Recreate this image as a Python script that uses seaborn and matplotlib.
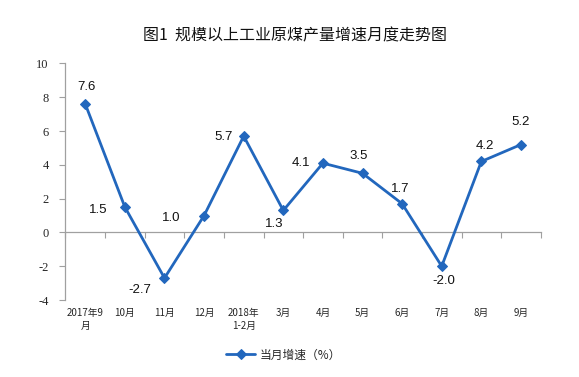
import matplotlib
matplotlib.use("Agg")
import matplotlib.pyplot as plt
import pandas as pd
import seaborn as sns

# data
months = ["2017年9\n月", "10月", "11月", "12月", "2018年\n1-2月", "3月",
          "4月", "5月", "6月", "7月", "8月", "9月"]
growth = [7.6, 1.5, -2.7, 1.0, 5.7, 1.3, 4.1, 3.5, 1.7, -2.0, 4.2, 5.2]
yticks = [-4, -2, 0, 2, 4, 6, 8, 10]

# label offsets (pixels) relative to each point
label_dx = [1, -27, -25, -33, -20, -9, -22, -4, -2, 2, 4, 0]
label_dy = [17, -3, -12, -2, -1, -14, 0, 17, 15, -15, 15, 23]

df = pd.DataFrame({"pos": range(len(months)), "value": growth})

sns.set_style("white")
plt.rcParams['font.family'] = ['Noto Sans CJK SC', 'DejaVu Sans']

blue = "#2267BD"
grey = "#A0A0A0"

fig = plt.figure(figsize=(5.79, 3.77), dpi=100)
ax = fig.add_axes([0.1131, 0.2042, 0.8208, 0.6274])

sns.lineplot(data=df, x="pos", y="value", ax=ax, color=blue, linewidth=2.0,
             marker="D", markersize=4.8, markeredgecolor=blue,
             label="当月增速（%）", legend=False)

for i, v in enumerate(growth):
    ax.annotate(f"{v:.1f}", (i, v), xytext=(label_dx[i], label_dy[i]),
                textcoords="offset pixels", ha="center", va="center",
                fontsize=9.5, family=["Liberation Sans", "DejaVu Sans"],
                color="#111111")

ax.set_xlim(-0.5, len(months) - 0.5)
ax.set_ylim(-4, 10)
ax.set_yticks(yticks)
ax.set_yticklabels([str(t) for t in yticks], family=["Liberation Serif"],
                   fontsize=9)
ax.set_xticks(range(len(months)))
ax.set_xticklabels(months, fontsize=7, linespacing=1.3)
ax.tick_params(axis="x", length=0, pad=6)
ax.tick_params(axis="y", length=4, width=0.8, color=grey, direction="out",
               pad=8, left=True)
ax.set_xlabel("")
ax.set_ylabel("")

for side in ["top", "right", "bottom"]:
    ax.spines[side].set_visible(False)
ax.spines["left"].set_color(grey)
ax.spines["left"].set_linewidth(0.9)

# zero axis with category boundary ticks
zero_axis = ax.secondary_xaxis(4 / 14)
zero_axis.set_xticks([i - 0.5 for i in range(len(months) + 1)])
zero_axis.set_xticklabels([])
zero_axis.tick_params(length=4, width=0.8, color=grey, direction="out")
zero_axis.spines["bottom"].set_color(grey)
zero_axis.spines["bottom"].set_linewidth(0.9)

fig.text(0.51, 1 - 36 / 377, "图1  规模以上工业原煤产量增速月度走势图",
         ha="center", va="center", fontsize=11.5, color="#111111")

handles, labels = ax.get_legend_handles_labels()
fig.legend(handles, labels, loc="center", bbox_to_anchor=(0.49, 1 - 355 / 377),
           frameon=False, fontsize=8.5, handlelength=2.4, handletextpad=0.4)

fig.savefig("out.png", dpi=100)
